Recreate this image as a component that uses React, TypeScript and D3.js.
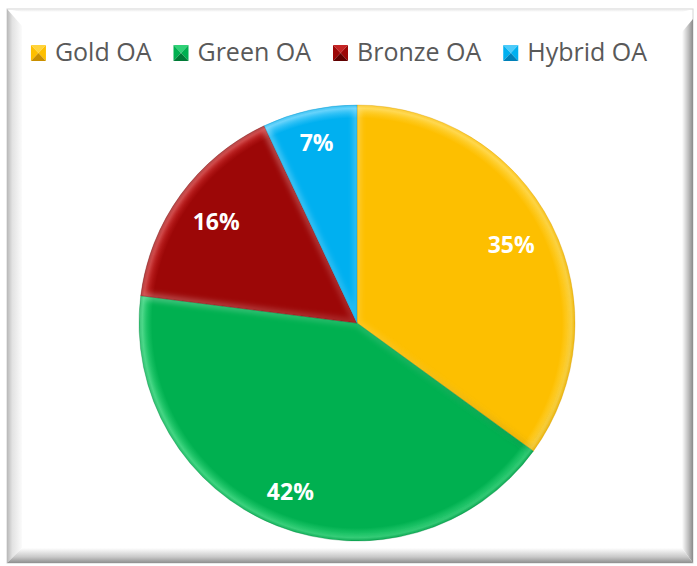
import React, { useMemo } from 'react';
import * as d3 from 'd3';

const categories = ['Gold OA', 'Green OA', 'Bronze OA', 'Hybrid OA'];
const values = [35, 42, 16, 7];
const labels = ['35%', '42%', '16%', '7%'];
const colors = ['#FDBF00', '#00B050', '#9C0707', '#00B0F0'];
const lighter = ['#FFD33A', '#2FD176', '#C52424', '#4CCBFA'];
const darker = ['#C98F00', '#007A36', '#600000', '#0080B8'];

const W = 697;
const H = 566;
const cx = 357;
const cy = 323;
const R = 218;

function measure(text: string, font: string): number {
  const c = document.createElement('canvas').getContext('2d');
  if (!c) return text.length * 12;
  c.font = font;
  return c.measureText(text).width;
}

export default function App() {
  const arcs = useMemo(
    () => d3.pie<number>().sort(null).value((d) => d).startAngle(0).endAngle(Math.PI * 2)(values),
    []
  );
  const arcGen = d3.arc<d3.PieArcDatum<number>>().innerRadius(0).outerRadius(R);

  const labelFont = '700 23px "Open Sans"';
  const labelPos = arcs.map((a, i) => {
    const mid = (a.startAngle + a.endAngle) / 2;
    const hw = measure(labels[i], labelFont) / 2;
    const hh = 9;
    let r = R;
    for (; r > 0; r -= 1) {
      const x = r * Math.sin(mid);
      const y = -r * Math.cos(mid);
      const dmax = Math.max(
        ...[[-1, -1], [1, -1], [-1, 1], [1, 1]].map(([sx, sy]) => Math.hypot(x + sx * hw, y + sy * hh))
      );
      if (dmax <= R - 19) break;
    }
    return [r * Math.sin(mid), -r * Math.cos(mid)];
  });

  const legendFont = '400 25px "Open Sans"';
  const mW = 15;
  const gapText = 9;
  const gapItem = 22;
  const widths = categories.map((c) => measure(c, legendFont));
  const total = widths.reduce((s, w) => s + mW + gapText + w, 0) + gapItem * (categories.length - 1);
  let lx = 339 - total / 2;
  const legendItems = categories.map((c, i) => {
    const item = { x: lx, w: widths[i], c, i };
    lx += mW + gapText + widths[i] + gapItem;
    return item;
  });
  const ly = 45;

  // frame geometry
  const oL = 7, oT = 9, oR = 693, oB = 563;
  const iL = 22, iT = 12, iR = 682, iB = 548;

  return (
    <svg width={W} height={H} style={{ position: 'absolute', left: 0, top: 0 }} fontFamily='"Open Sans", sans-serif'>
      <defs>
        <linearGradient id="fl" x1="0" x2="1" y1="0" y2="0">
          <stop offset="0" stopColor="#b8b8b8" />
          <stop offset="0.35" stopColor="#e2e2e2" />
          <stop offset="1" stopColor="#fbfbfb" />
        </linearGradient>
        <linearGradient id="fr" x1="0" x2="1" y1="0" y2="0">
          <stop offset="0" stopColor="#ffffff" />
          <stop offset="0.6" stopColor="#bdbdbd" />
          <stop offset="1" stopColor="#8a8a8a" />
        </linearGradient>
        <linearGradient id="fb" x1="0" x2="0" y1="0" y2="1">
          <stop offset="0" stopColor="#ffffff" />
          <stop offset="0.6" stopColor="#c8c8c8" />
          <stop offset="1" stopColor="#8f8f8f" />
        </linearGradient>
        <linearGradient id="ft" x1="0" x2="0" y1="0" y2="1">
          <stop offset="0" stopColor="#e6e6e6" />
          <stop offset="1" stopColor="#ffffff" />
        </linearGradient>
        <filter id="blur6" x="-10%" y="-10%" width="120%" height="120%">
          <feGaussianBlur stdDeviation="2.5" />
        </filter>
        <linearGradient id="light" gradientUnits="userSpaceOnUse" x1={-R} y1={-R} x2={R} y2={R}>
          <stop offset="0" stopColor="#ffffff" stopOpacity="0.35" />
          <stop offset="0.5" stopColor="#ffffff" stopOpacity="0.12" />
          <stop offset="1" stopColor="#000000" stopOpacity="0.1" />
        </linearGradient>
        {arcs.map((a, i) => (
          <clipPath id={`clip${i}`} key={i}>
            <path d={arcGen(a) || ''} />
          </clipPath>
        ))}
        {arcs.map((a, i) => (
          <radialGradient id={`rg${i}`} key={i} gradientUnits="userSpaceOnUse" cx={0} cy={0} r={R}>
            <stop offset="0" stopColor={colors[i]} />
            <stop offset="0.94" stopColor={colors[i]} />
            <stop offset="0.985" stopColor={lighter[i]} />
            <stop offset="1" stopColor={colors[i]} />
          </radialGradient>
        ))}
      </defs>

      {/* frame */}
      <rect x={oL} y={oT} width={oR - oL} height={oB - oT} fill="#ffffff" stroke="#d4d4d4" strokeWidth={1} />
      <polygon points={`${oL},${oT} ${oR},${oT} ${iR},${iT} ${iL},${iT}`} fill="url(#ft)" />
      <polygon points={`${oL},${oT} ${iL},${iT + 14} ${iL},${iB} ${oL},${oB}`} fill="url(#fl)" />
      <polygon points={`${oR},${oT + 10} ${oR},${oB} ${iR},${iB} ${iR},${iT + 20}`} fill="url(#fr)" />
      <polygon points={`${oL},${oB} ${iL},${iB} ${iR},${iB} ${oR},${oB}`} fill="url(#fb)" />
      <rect x={iL} y={iT} width={iR - iL} height={iB - iT} fill="#ffffff" />

      {/* legend */}
      {legendItems.map((it) => {
        const x0 = it.x, y0 = ly, x1 = it.x + mW, y1 = ly + 16;
        const mx = (x0 + x1) / 2, my = (y0 + y1) / 2;
        const i = it.i;
        return (
          <g key={it.c}>
            <polygon points={`${x0},${y0} ${x1},${y0} ${mx},${my}`} fill={lighter[i]} />
            <polygon points={`${x0},${y0} ${mx},${my} ${x0},${y1}`} fill={colors[i]} />
            <polygon points={`${x1},${y0} ${x1},${y1} ${mx},${my}`} fill={colors[i]} />
            <polygon points={`${x0},${y1} ${mx},${my} ${x1},${y1}`} fill={darker[i]} />
            <text x={x1 + gapText} y={ly + 16} fill="#595959" style={{ font: legendFont }}>
              {it.c}
            </text>
          </g>
        );
      })}

      {/* pie */}
      <g transform={`translate(${cx},${cy})`}>
        {arcs.map((a, i) => (
          <g key={i}>
            <path d={arcGen(a) || ''} fill={`url(#rg${i})`} />
            <g clipPath={`url(#clip${i})`}>
              <path
                d={arcGen(a) || ''}
                fill="none"
                stroke="url(#light)"
                strokeWidth={8}
                strokeLinejoin="round"
                filter="url(#blur6)"
              />
            </g>
            <path d={arcGen(a) || ''} fill="none" stroke={darker[i]} strokeOpacity={0.4} strokeWidth={0.7} />
          </g>
        ))}
        {labelPos.map(([x, y], i) => (
          <text
            key={i}
            x={x}
            y={y}
            textAnchor="middle"
            dominantBaseline="central"
            fill="#ffffff"
            style={{ font: labelFont }}
          >
            {labels[i]}
          </text>
        ))}
      </g>
    </svg>
  );
}
